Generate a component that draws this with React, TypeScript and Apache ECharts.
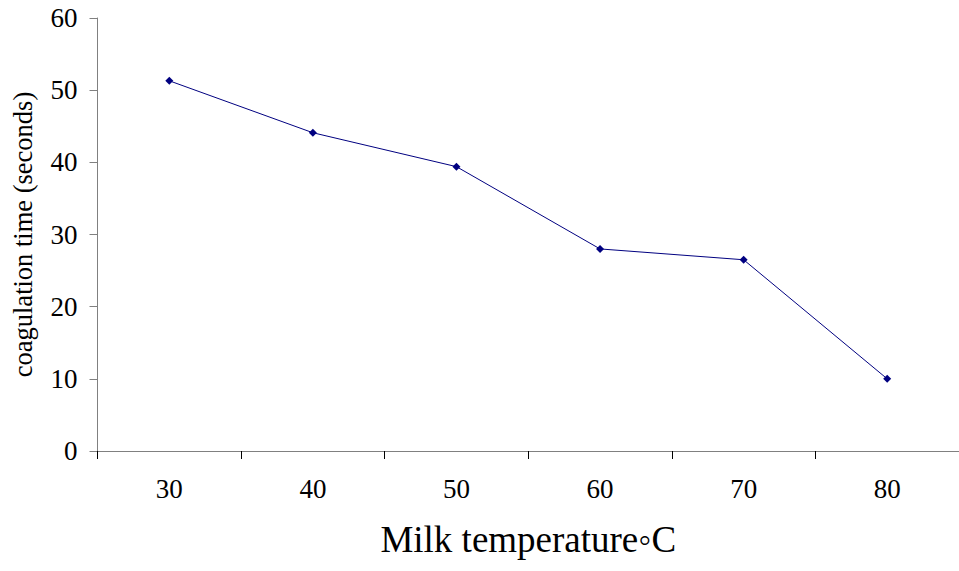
import React, { useEffect, useRef } from "react";
import * as echarts from "echarts";

const categories = ["30", "40", "50", "60", "70", "80"];
const coagulationTime = [51.3, 44.1, 39.4, 28.0, 26.5, 10.0];
const yTicks = { min: 0, max: 60, interval: 10 };
const xTitle = "Milk temperature\u25E6C";
const yTitle = "coagulation time (seconds)";

export default function App() {
  const ref = useRef<HTMLDivElement>(null);
  useEffect(() => {
    if (!ref.current) return;
    const chart = echarts.init(ref.current, null, { renderer: "svg" });
    const font = "Liberation Serif";
    const axisColor = "#808080";
    chart.setOption({
      animation: false,
      textStyle: { fontFamily: font },
      grid: { left: 97.5, width: 867.8, top: 18, bottom: 120 },
      xAxis: {
        type: "category",
        data: categories,
        boundaryGap: true,
        name: xTitle,
        nameLocation: "middle",
        nameGap: 70,
        nameTextStyle: { fontFamily: font, fontSize: 37, color: "#000" },
        axisLine: { lineStyle: { color: axisColor, width: 1 } },
        axisTick: { show: true, length: 8, lineStyle: { color: "#000" }, alignWithLabel: false },
        axisLabel: { fontFamily: font, fontSize: 27, color: "#000", margin: 24 },
        splitLine: { show: false },
      },
      yAxis: {
        type: "value",
        min: yTicks.min,
        max: yTicks.max,
        interval: yTicks.interval,
        name: yTitle,
        nameLocation: "middle",
        nameGap: 61,
        nameRotate: 90,
        nameTextStyle: { fontFamily: font, fontSize: 26.5, color: "#000" },
        axisLine: { show: true, lineStyle: { color: axisColor, width: 1 } },
        axisTick: { show: true, length: 8, lineStyle: { color: axisColor } },
        axisLabel: { fontFamily: font, fontSize: 27, color: "#000", margin: 20 },
        splitLine: { show: false },
      },
      series: [
        {
          type: "line",
          data: coagulationTime,
          symbol: "diamond",
          symbolSize: 8,
          showAllSymbol: true,
          lineStyle: { color: "#000080", width: 1 },
          itemStyle: { color: "#000080" },
        },
      ],
    });
    return () => chart.dispose();
  }, []);
  return <div ref={ref} style={{ width: 959, height: 571, position: "absolute", left: 0, top: 0 }} />;
}
